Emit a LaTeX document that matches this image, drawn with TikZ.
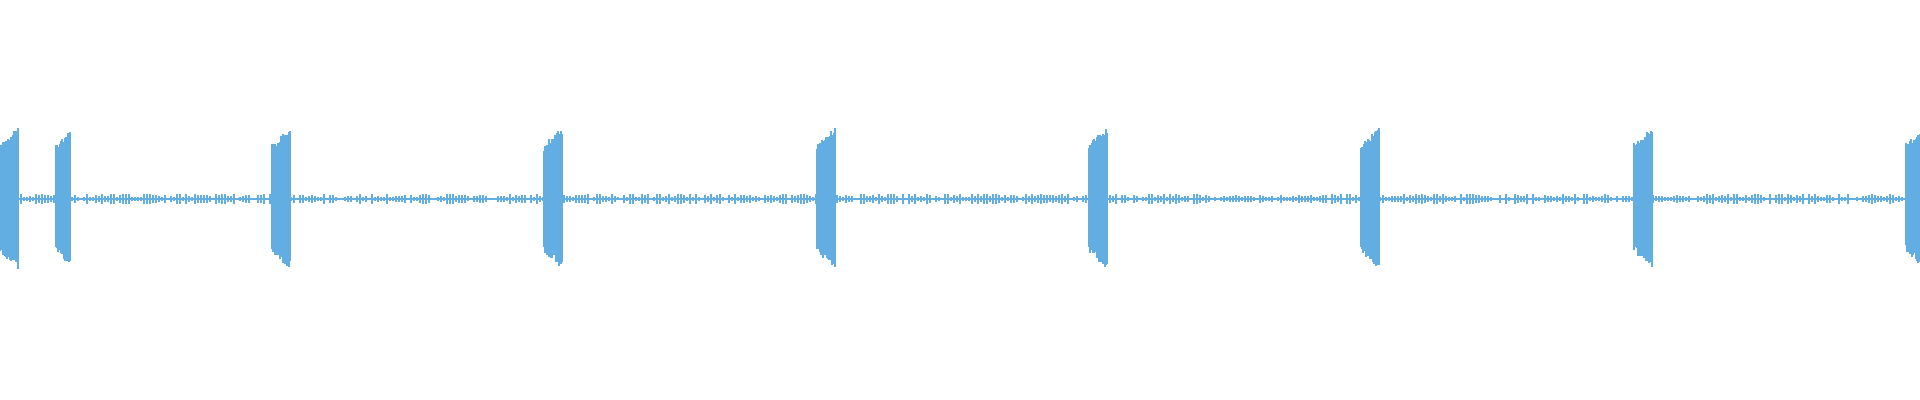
\documentclass[tikz,border=0pt]{standalone}
\usepackage{tikz}
\definecolor{wave}{HTML}{62AEE3}
\tikzset{noise/.style={wave, line width=0.5pt},
         burst/.style={wave, line width=0.7pt}}
\begin{document}
\begin{tikzpicture}[x=0.01cm,y=0.01cm]
\useasboundingbox (0,0) rectangle (1920,400);
\pgfmathsetseed{7}
% quiet part between the bursts
\draw[wave, line width=0.5pt] (0,201) -- (1920,201);
\foreach \x in {21,24,...,1904}
  {
    \pgfmathsetmacro{\h}{1+4.5*rnd}
    \draw[noise] (\x,201-\h) -- (\x,201+\h);
  }
% loud bursts
\foreach \s/\e in {0/18, 56/70, 272/290, 544/562, 817/835, 1089/1107, 1361/1379, 1634/1652, 1906/1920}
  {
    \foreach \x in {\s,...,\e}
      {
        \pgfmathsetmacro{\up}{48+16*(\x-\s)/18+8*rnd}
        \pgfmathsetmacro{\dn}{46+16*(\x-\s)/18+8*rnd}
        \draw[burst] (\x,201-\dn) -- (\x,201+\up);
      }
  }
\end{tikzpicture}
\end{document}
